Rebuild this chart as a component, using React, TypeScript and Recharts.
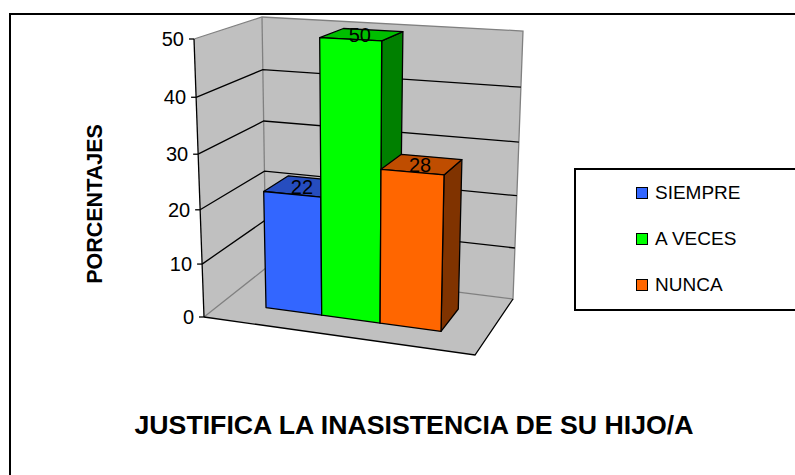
import { BarChart, Bar, YAxis, XAxis, CartesianGrid } from "recharts";

const categories = ["JUSTIFICA"];
const siempre = [22];
const aVeces = [50];
const nunca = [28];
const yTicks = [0, 10, 20, 30, 40, 50];
const seriesNames = ["SIEMPRE", "A VECES", "NUNCA"];

const data = categories.map((name, i) => ({
  name,
  SIEMPRE: siempre[i],
  "A VECES": aVeces[i],
  NUNCA: nunca[i],
}));

const FONT = "'Liberation Sans', Arial, sans-serif";
const PLOT_LEFT = 203;
const PLOT_WIDTH = 271;
const PLOT_TOP = 39;
const PLOT_HEIGHT = 278;
const AXIS_WIDTH = 1;
const BAR_DEPTH_FRONT = 0.31;
const BAR_DEPTH_BACK = 0.72;

type Pt = [number, number];

// corners of the 3d box as they land on the page (F front, B back, L/R, bottom/top)
const FLb: Pt = [204, 317];
const FRb: Pt = [475, 355];
const BLb: Pt = [266, 268];
const BRb: Pt = [513, 299];
const FLt: Pt = [194, 39];
const FRt: Pt = [482.5, 54];
const BLt: Pt = [262, 17];
const BRt: Pt = [523, 31];

const lerp = (a: Pt, b: Pt, k: number): Pt => [a[0] + (b[0] - a[0]) * k, a[1] + (b[1] - a[1]) * k];
const warpT = (t: number) => t * (0.94 + 0.06 * t);

// u across, t up, w into the page, all 0..1
function project(u: number, t: number, w: number): Pt {
  const uu = u + 0.1 * (u - 0.162) * (u - 0.83);
  const bottom = lerp(lerp(FLb, FRb, uu), lerp(BLb, BRb, uu), w);
  const top = lerp(lerp(FLt, FRt, uu), lerp(BLt, BRt, uu), w);
  return lerp(bottom, top, warpT(t));
}

const toU = (x: number) => (x - 204) / 271;
const toT = (y: number) => (PLOT_TOP + PLOT_HEIGHT - y) / PLOT_HEIGHT;
const pts = (list: Pt[]) => list.map((p) => `${p[0].toFixed(1)},${p[1].toFixed(1)}`).join(" ");

// sits behind the chart's transparent svg
function Walls() {
  const wall = "#C0C0C0";
  const edge = "#808080";
  return (
    <svg width={795} height={475} style={{ position: "absolute", left: 0, top: 0 }}>
      <polygon points={pts([FLb, FRb, BRb, BLb])} fill={wall} />
      <polygon points={pts([FLb, FLt, BLt, BLb])} fill={wall} />
      <polygon points={pts([BLb, BLt, BRt, BRb])} fill={wall} />
      <polyline points={pts([FLt, BLt, BRt, BRb, BLb, FLb])} fill="none" stroke={edge} strokeWidth={1.3} />
      <line x1={BLt[0]} y1={BLt[1]} x2={BLb[0]} y2={BLb[1]} stroke={edge} strokeWidth={1.3} />
      <polyline points={pts([FLb, FRb, BRb])} fill="none" stroke="#000" strokeWidth={1.3} />
      <line x1={FLb[0]} y1={FLb[1]} x2={FLt[0]} y2={FLt[1]} stroke="#000" strokeWidth={1.3} />
    </svg>
  );
}

function GridLine(props: any) {
  const t = warpT(toT(props.y1));
  if (t < 0.01 || t > 0.99) return <g key={props.key} />;
  return (
    <polyline
      key={props.key}
      points={pts([lerp(FLb, FLt, t), lerp(BLb, BLt, t), lerp(BRb, BRt, t)])}
      fill="none"
      stroke="#000"
      strokeWidth={1.3}
    />
  );
}

function YTick(props: any) {
  const { y, payload } = props;
  const p = lerp(FLb, FLt, warpT(toT(y)));
  return (
    <g>
      <line x1={p[0] - 5} y1={p[1]} x2={p[0]} y2={p[1]} stroke="#000" strokeWidth={1.3} />
      <text x={p[0] - 10} y={p[1] + 7} textAnchor="end" fontSize={20} fontFamily={FONT} fill="#000">
        {payload.value}
      </text>
    </g>
  );
}

// one 3d box, front/side/top faces from the rect recharts hands over
function Box3D(props: any) {
  const { x, y, width, height, fill, topFill, sideFill } = props;
  const u0 = toU(x);
  const u1 = toU(x + width);
  const t1 = toT(y);
  const t0 = toT(y + height);
  const f = BAR_DEPTH_FRONT;
  const b = BAR_DEPTH_BACK;
  const stroke = { stroke: "#000", strokeWidth: 1.3, strokeLinejoin: "round" as const };
  return (
    <g>
      <polygon
        points={pts([project(u1, t0, f), project(u1, t0, b), project(u1, t1, b), project(u1, t1, f)])}
        fill={sideFill}
        {...stroke}
      />
      <polygon
        points={pts([project(u0, t1, f), project(u1, t1, f), project(u1, t1, b), project(u0, t1, b)])}
        fill={topFill}
        {...stroke}
      />
      <polygon
        points={pts([project(u0, t0, f), project(u1, t0, f), project(u1, t1, f), project(u0, t1, f)])}
        fill={fill}
        {...stroke}
      />
    </g>
  );
}

function TopLabel(props: any) {
  const { x, y, width, value } = props;
  const p = project(toU(x + width / 2), toT(y), 0.5);
  return (
    <text x={p[0] - 1} y={p[1] + 7} textAnchor="middle" fontSize={20} fontFamily={FONT} fill="#000">
      {value}
    </text>
  );
}

const seriesColors = [
  { fill: "#3366FF", topFill: "#264DBF", sideFill: "#1A3380" },
  { fill: "#00FF00", topFill: "#00BF00", sideFill: "#008000" },
  { fill: "#FF6600", topFill: "#BF4D00", sideFill: "#803300" },
];

function LegendBox() {
  return (
    <div
      style={{
        position: "absolute",
        left: 574,
        top: 168,
        width: 240,
        height: 143,
        border: "2px solid #000",
        boxSizing: "border-box",
        background: "#fff",
      }}
    >
      {seriesNames.map((name, i) => (
        <div
          key={name}
          style={{
            position: "absolute",
            left: 60,
            top: 13 + i * 46,
            display: "flex",
            alignItems: "center",
            fontFamily: FONT,
            fontSize: 19,
            color: "#000",
            height: 20,
          }}
        >
          <span
            style={{
              display: "inline-block",
              width: 12,
              height: 12,
              boxSizing: "border-box",
              border: "1.5px solid #000",
              background: seriesColors[i].fill,
              marginRight: 7,
            }}
          />
          {name}
        </div>
      ))}
    </div>
  );
}

export default function App() {
  return (
    <div style={{ position: "absolute", left: 0, top: 0, width: 795, height: 475, background: "#fff", overflow: "hidden" }}>
      <div
        style={{
          position: "absolute",
          left: 9,
          top: 13,
          width: 800,
          height: 480,
          border: "2px solid #000",
          boxSizing: "border-box",
        }}
      />
      <Walls />
      <BarChart
        width={795}
        height={475}
        data={data}
        style={{ position: "absolute", left: 0, top: 0 }}
        margin={{ top: PLOT_TOP, left: PLOT_LEFT - AXIS_WIDTH, right: 795 - PLOT_LEFT - PLOT_WIDTH, bottom: 475 - PLOT_TOP - PLOT_HEIGHT }}
        barCategoryGap="16.6%"
        barGap={0}
      >
        <CartesianGrid vertical={false} horizontal={GridLine} />
        <XAxis dataKey="name" hide />
        <YAxis
          width={AXIS_WIDTH}
          domain={[0, 50]}
          ticks={yTicks}
          axisLine={false}
          tickLine={false}
          tick={YTick}
          interval={0}
        />
        {seriesNames.map((name, i) => (
          <Bar
            key={name}
            dataKey={name}
            isAnimationActive={false}
            fill={seriesColors[i].fill}
            shape={(p: any) => <Box3D {...p} fill={seriesColors[i].fill} topFill={seriesColors[i].topFill} sideFill={seriesColors[i].sideFill} />}
            label={TopLabel}
          />
        ))}
        <text x={102} y={204} transform="rotate(-90 102 204)" textAnchor="middle" fontSize={21.5} fontWeight="bold" fontFamily={FONT} fill="#000">
          PORCENTAJES
        </text>
        <text x={414} y={434} textAnchor="middle" fontSize={26.7} fontWeight="bold" fontFamily={FONT} fill="#000">
          JUSTIFICA LA INASISTENCIA DE SU HIJO/A
        </text>
      </BarChart>
      <LegendBox />
    </div>
  );
}
